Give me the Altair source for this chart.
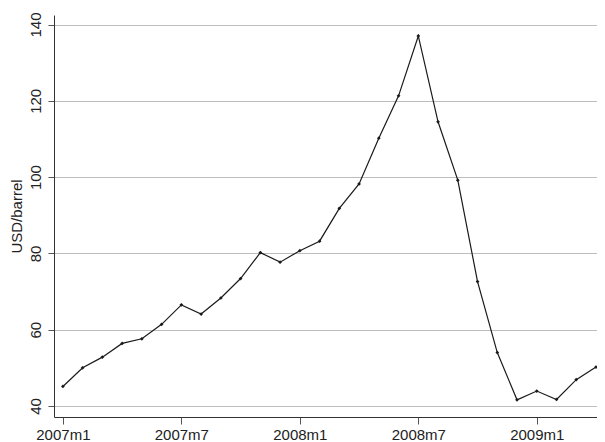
import altair as alt
import pandas as pd

months = ["2007m1","2007m2","2007m3","2007m4","2007m5","2007m6","2007m7","2007m8","2007m9","2007m10","2007m11","2007m12",
          "2008m1","2008m2","2008m3","2008m4","2008m5","2008m6","2008m7","2008m8","2008m9","2008m10","2008m11","2008m12",
          "2009m1","2009m2","2009m3","2009m4"]
prices = [45.1, 50.0, 52.8, 56.4, 57.6, 61.4, 66.5, 64.1, 68.3, 73.4, 80.2, 77.7,
          80.7, 83.2, 91.8, 98.2, 110.2, 121.3, 137.0, 114.5, 99.2, 72.6, 54.0, 41.6,
          43.9, 41.7, 46.9, 50.2]
tick_labels = ["2007m1", "2007m7", "2008m1", "2008m7", "2009m1"]
y_ticks = [40, 60, 80, 100, 120, 140]

df = pd.DataFrame({"idx": list(range(len(months))), "month": months, "price": prices})
tick_idx = [months.index(t) for t in tick_labels]
label_expr = "{" + ",".join(f"'{i}':'{t}'" for i, t in zip(tick_idx, tick_labels)) + "}[datum.value]"

x = alt.X("idx:Q", scale=alt.Scale(domain=[-0.45, 27.05], nice=False, zero=False),
          axis=alt.Axis(values=tick_idx, labelExpr=label_expr, title=None, grid=False,
                        tickSize=7, tickColor="#555555", domainColor="#333333",
                        labelFontSize=15, labelColor="#222222", labelPadding=3,
                        labelFont="Liberation Sans"))
y = alt.Y("price:Q", scale=alt.Scale(domain=[37.1, 142.5], nice=False, zero=False),
          axis=alt.Axis(values=y_ticks, title="USD/barrel", grid=True, gridColor="#bdbdbd",
                        gridWidth=1.2, tickSize=6, tickColor="#555555", domainColor="#333333",
                        labelAngle=270, labelAlign="center", labelBaseline="bottom",
                        labelFontSize=15, labelColor="#222222", labelPadding=5,
                        titleFontSize=15, titleFontWeight="normal", titleColor="#222222",
                        titlePadding=4, labelFont="Liberation Sans", titleFont="Liberation Sans"))

line = alt.Chart(df).mark_line(color="#1a1a1a", strokeWidth=1.2, clip=False).encode(x=x, y=y)
pts = alt.Chart(df).mark_point(filled=True, shape="diamond", size=14, color="#1a1a1a", opacity=1).encode(x=x, y=y)

chart = (line + pts).properties(
    width=543, height=402,
    autosize=alt.AutoSizeParams(type="none"),
    padding={"left": 46, "top": 7, "right": 0, "bottom": 25},
    background="white",
).configure_view(stroke=None)

chart.save("out.html", embed_options={"renderer": "svg", "actions": False})
